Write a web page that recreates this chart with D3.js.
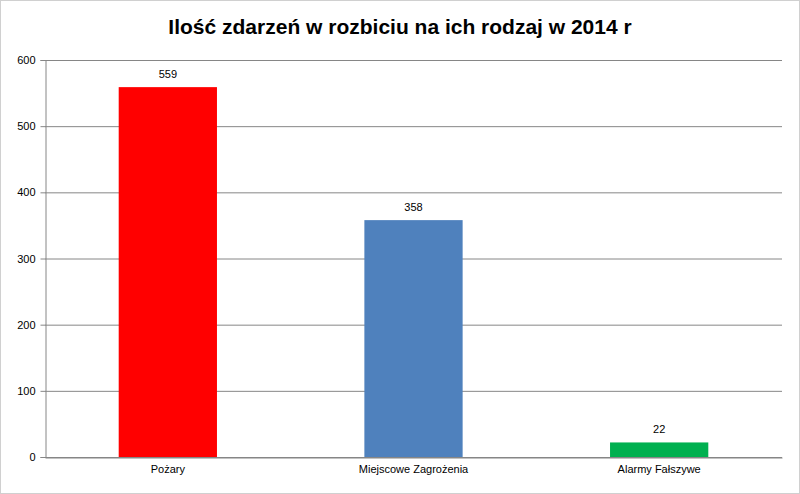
<!DOCTYPE html>
<html>
<head>
<meta charset="utf-8">
<script src="https://cdn.jsdelivr.net/npm/d3@7"></script>
<style>
  body { margin: 0; background: #fff; }
  text { font-family: "Liberation Sans", Arial, sans-serif; }
</style>
</head>
<body>
<div id="chart"></div>
<script>
const categories = ["Pożary", "Miejscowe Zagrożenia", "Alarmy Fałszywe"];
const values = [559, 358, 22];
const colors = ["#ff0000", "#4f81bd", "#00b050"];
const yTicks = [0, 100, 200, 300, 400, 500, 600];

const width = 800, height = 494;
const margin = { top: 60, right: 18, bottom: 37, left: 45 };

const svg = d3.select("#chart").append("svg")
  .attr("width", width)
  .attr("height", height);

svg.append("rect")
  .attr("x", 0.5).attr("y", 0.5)
  .attr("width", width - 1).attr("height", height - 1)
  .attr("fill", "#fff").attr("stroke", "#d0d0d0");

const x = d3.scaleBand().domain(categories)
  .range([margin.left, width - margin.right])
  .paddingInner(0.6).paddingOuter(0.3);
const y = d3.scaleLinear().domain([0, 600])
  .range([height - margin.bottom, margin.top]);

// grid
svg.append("g").selectAll("line")
  .data(yTicks)
  .join("line")
  .attr("x1", margin.left).attr("x2", width - margin.right)
  .attr("y1", d => y(d) + 0.5).attr("y2", d => y(d) + 0.5)
  .attr("stroke", "#868686");

// y axis
const yAxis = svg.append("g")
  .attr("transform", `translate(${margin.left + 0.5},0)`)
  .call(d3.axisLeft(y).tickValues(yTicks).tickSize(5).tickPadding(5));
yAxis.select(".domain").attr("stroke", "#868686");
yAxis.selectAll(".tick line").attr("stroke", "#868686");
yAxis.selectAll("text").attr("font-size", 11).attr("fill", "#000");

// x axis
const xAxis = svg.append("g")
  .attr("transform", `translate(0,${height - margin.bottom + 0.5})`)
  .call(d3.axisBottom(x).tickSize(0).tickPadding(8));
xAxis.select(".domain").attr("stroke", "#868686");
xAxis.selectAll("text").attr("font-size", 11).attr("fill", "#000");

// bars
svg.append("g").selectAll("rect")
  .data(values)
  .join("rect")
  .attr("x", (d, i) => x(categories[i]))
  .attr("y", d => y(d))
  .attr("width", x.bandwidth())
  .attr("height", d => y(0) - y(d))
  .attr("fill", (d, i) => colors[i]);

// labels
svg.append("g").selectAll("text")
  .data(values)
  .join("text")
  .attr("x", (d, i) => x(categories[i]) + x.bandwidth() / 2)
  .attr("y", d => y(d) - 9)
  .attr("text-anchor", "middle")
  .attr("font-size", 11)
  .text(d => d);

svg.append("text")
  .attr("x", width / 2)
  .attr("y", 34)
  .attr("text-anchor", "middle")
  .attr("font-size", 21)
  .attr("font-weight", "bold")
  .text("Ilość zdarzeń w rozbiciu na ich rodzaj w 2014 r");
</script>
</body>
</html>
